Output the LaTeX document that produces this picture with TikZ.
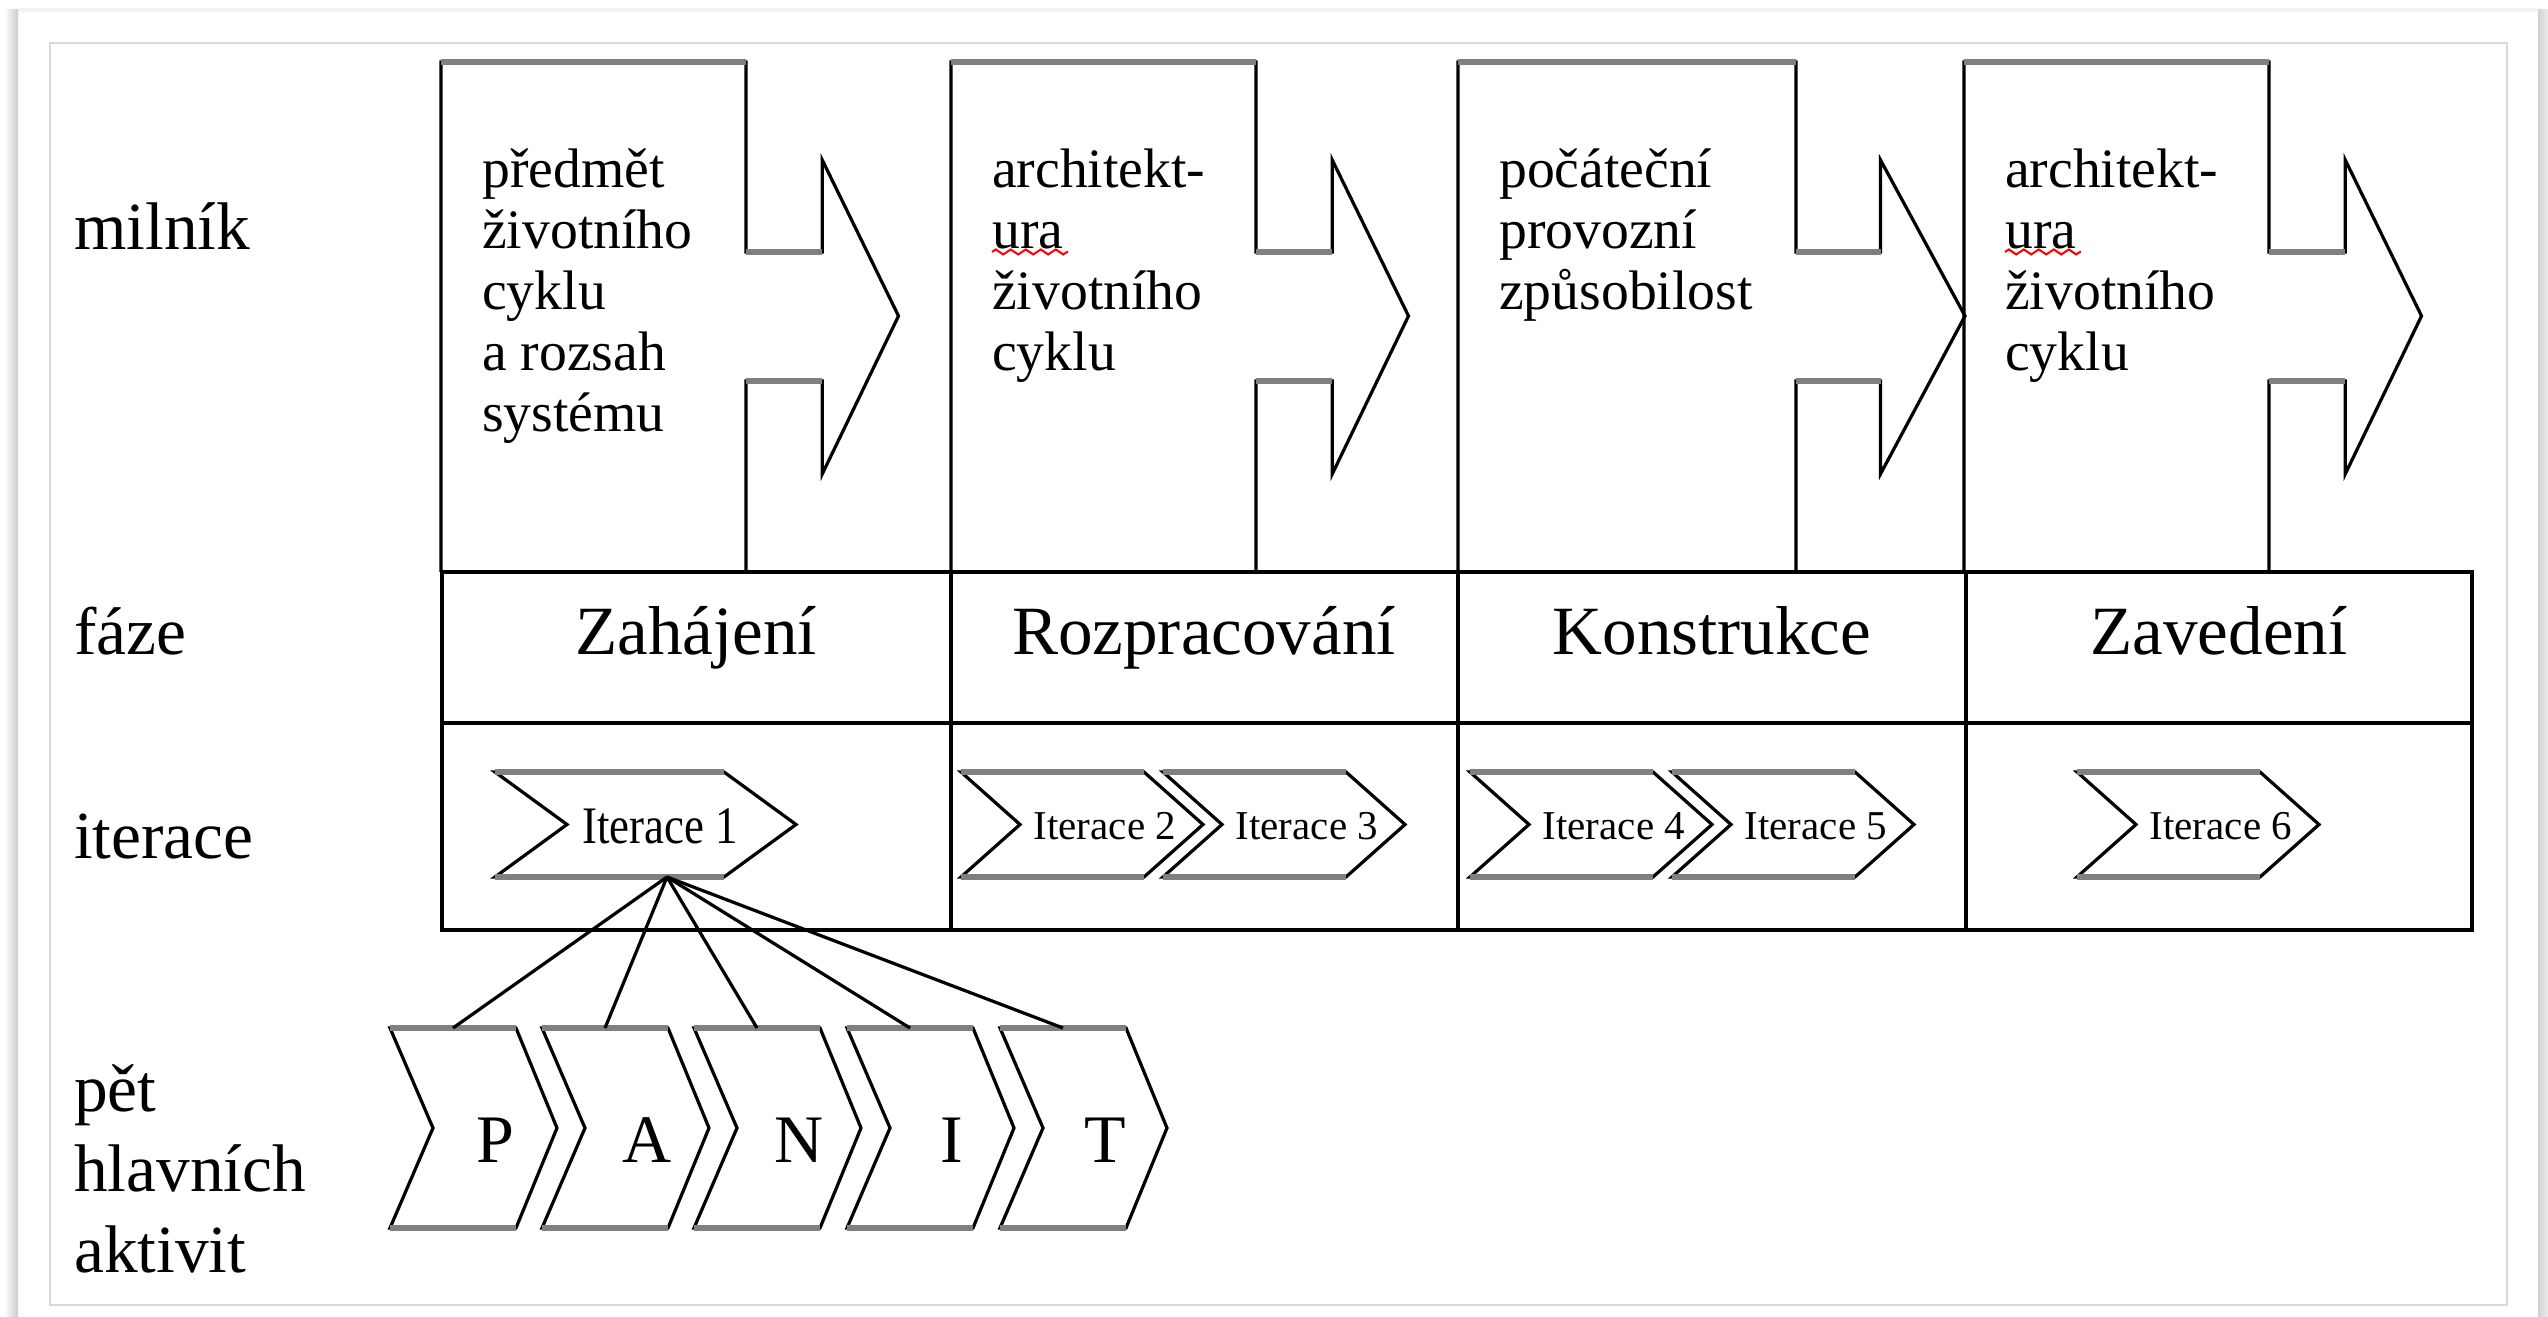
\documentclass[tikz,border=0pt]{standalone}
\usepackage{fontspec}
\setmainfont{Liberation Serif}
\usepackage{tikz}
\usetikzlibrary{positioning,decorations.pathmorphing}
\definecolor{rimgray}{HTML}{808080}
\definecolor{framegray}{HTML}{D9D9D9}

\begin{document}
\begin{tikzpicture}[x=0.06mm,y=-0.06mm,
  grid/.style={line width=0.75pt},
  edge/.style={line width=0.55pt,line join=miter},
  rim/.style={draw=rimgray,line width=1.1pt},
  rowlbl/.style={anchor=base west,inner sep=0,font=\fontsize{11.5}{13.8}\selectfont},
  mile/.style={anchor=north west,inner sep=0,align=left,font=\fontsize{9.5}{10.4}\selectfont},
  phase/.style={anchor=base,inner sep=0,font=\fontsize{11.8}{14}\selectfont},
  iter/.style={inner sep=0,xshift=-0.4mm,font=\fontsize{7}{8}\selectfont},
  iterbig/.style={inner sep=0,xshift=-1.3mm,xscale=0.85,transform shape,font=\fontsize{9}{10}\selectfont},
  act/.style={anchor=base,inner sep=0,font=\fontsize{11.6}{14}\selectfont},
  spell/.style={draw=red,line width=0.35pt,decorate,decoration={zigzag,segment length=0.9mm,amplitude=0.15mm}}]
\useasboundingbox (0,0) rectangle (2548,1317);
\fill[white] (0,0) rectangle (2548,1317);
% paper edge and frame
\shade[left color=white,right color=gray!40] (4,10) rectangle (18,1317);
\shade[left color=gray!35,right color=gray!15] (2538,10) rectangle (2548,1317);
\draw[gray!10,line width=0.6pt] (18,10) -- (2538,10);
\draw[framegray,line width=0.4pt] (50,43) rectangle (2507,1305);

% row captions
\node[rowlbl] (lmil) at (73,250) {milník}; \node[rowlbl] (lfaz) at (73,655) {fáze}; \node[rowlbl] (lite) at (73,859) {iterace};
\node[rowlbl,anchor=north west,align=left] (lakt) at (73,1063) {pět\\hlavních\\aktivit};

% milestones
\foreach \n/\x/\w/\txt in {1/441/305/{předmět\\životního\\cyklu\\a rozsah\\systému},2/951/305/{architekt-\\ura\\životního\\cyklu},3/1458/338/{počáteční\\provozní\\způsobilost},4/1964/305/{architekt-\\ura\\životního\\cyklu}}{
  \pgfmathsetmacro\r{\x+\w} \pgfmathsetmacro\s{\x+\w+\w/4} \pgfmathsetmacro\t{\x+\w+\w/2}
  \draw[edge] (\x,572) -- (\x,62) -- (\r,62) -- (\r,252) -- (\s,252) -- (\s,160) -- (\t,316) -- (\s,474) -- (\s,381) -- (\r,381) -- (\r,572);
  \draw[rim] (\x,62) -- (\r,62) (\r,252) -- (\s,252) (\r,381) -- (\s,381);
  \node[mile] (m\n) at (\x+40,148) {\txt};
}
\draw[spell] (992,252) -- (1068,252); \draw[spell] (2005,252) -- (2081,252);

% phases table
\draw[grid] (442,572) rectangle (2472,930) (442,723) -- (2472,723);
\foreach \x in {951,1458,1966} \draw[grid] (\x,572) -- (\x,930);
\node[phase] (zah) at (696,655) {Zahájení}; \node[phase] (roz) at (1204,655) {Rozpracování};
\node[phase] (kon) at (1712,655) {Konstrukce}; \node[phase] (zav) at (2219,655) {Zavedení};

% iterations
\foreach \n/\x/\w/\d/\st in {1/495/301/72/iterbig,2/961/242/59/iter,3/1163/242/59/iter,4/1470/242/59/iter,5/1672/242/59/iter,6/2077/242/59/iter}{
  \draw[edge] (\x,772) -- (\x+\w-\d,772) -- (\x+\w,824.5) -- (\x+\w-\d,877) -- (\x,877) -- (\x+\d,824.5) -- cycle;
  \draw[rim] (\x,772) -- (\x+\w-\d,772) (\x,877) -- (\x+\w-\d,877);
  \node[\st] (it\n) at (\x+\d/2+\w/2,826) {Iterace \n};
}
\coordinate (it1foot) at (667,877);

% five core activities
\foreach \n/\x/\l in {1/390/P,2/542/A,3/694/N,4/847/I,5/1000/T}{
  \draw[edge] (\x,1028) -- (\x+126,1028) -- (\x+167,1128) -- (\x+126,1228) -- (\x,1228) -- (\x+43,1128) -- cycle;
  \draw[rim] (\x,1028) -- (\x+126,1028) (\x,1228) -- (\x+126,1228);
  \node[act] (act\n) at (\x+105,1162) {\l};
  \coordinate (act\n top) at (\x+63,1028);
  \draw[edge] (it1foot) -- (act\n top);
}
\end{tikzpicture}
\end{document}
